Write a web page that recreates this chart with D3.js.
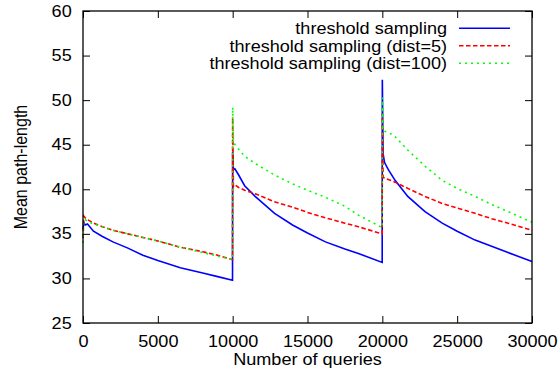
<!DOCTYPE html>
<html>
<head>
<meta charset="utf-8">
<script src="https://cdn.jsdelivr.net/npm/d3@7"></script>
<style>
	body { margin: 0; background: #fff; }
	svg { display: block; font-family: "Liberation Sans", Arial, Helvetica, sans-serif; }
	.vis__axis text { font-size: 16px; fill: #000; }
	.vis__axis line { stroke: #000; stroke-width: 1; }
	.vis__label { font-size: 16px; fill: #000; }
</style>
</head>
<body>
<svg id="chart" width="560" height="381"></svg>
<script>
var width = 560, height = 381;

// data
var queries = [0, 50, 150, 300, 700, 1300, 2000, 3000, 4000, 5000, 6500, 8000, 9000, 9990,
	10000, 10050, 10150, 10400, 10800, 11500, 12800, 14000, 15000, 16200, 17500, 18400, 19990,
	20000, 20050, 20150, 20400, 20850, 21700, 22850, 24000, 25000, 26200, 27300, 28400, 30000];

var plain = [35.5, 36.3, 36.0, 36.1, 35.3, 34.7, 34.1, 33.4, 32.6, 32.0, 31.2, 30.6, 30.2, 29.8,
	44.2, 42.2, 42.3, 41.6, 40.4, 39.2, 37.3, 36.0, 35.1, 34.1, 33.3, 32.8, 31.8,
	52.3, 44.0, 43.0, 42.2, 41.0, 39.2, 37.5, 36.2, 35.3, 34.3, 33.6, 32.9, 31.9];

var dist5 = [34.5, 37.0, 36.8, 36.6, 36.2, 35.8, 35.4, 35.0, 34.6, 34.2, 33.5, 33.0, 32.6, 32.1,
	48.0, 40.3, 40.5, 40.2, 39.9, 39.5, 38.6, 38.0, 37.4, 36.8, 36.2, 35.8, 35.0,
	48.5, 41.4, 41.2, 41.1, 40.8, 40.1, 39.2, 38.4, 37.9, 37.3, 36.7, 36.2, 35.4];

var dist100 = [34.0, 36.5, 36.6, 36.4, 36.1, 35.8, 35.4, 35.0, 34.6, 34.2, 33.5, 32.9, 32.5, 32.1,
	49.2, 45.5, 45.0, 44.5, 43.7, 42.9, 41.6, 40.6, 39.9, 39.1, 38.1, 37.1, 35.7,
	50.3, 46.7, 46.5, 46.4, 45.9, 44.4, 42.6, 41.0, 40.1, 39.2, 38.3, 37.5, 36.3];

var seriesNames = ['threshold sampling', 'threshold sampling (dist=5)', 'threshold sampling (dist=100)'];
var seriesValues = [plain, dist5, dist100];
var seriesColors = ['#0000ff', '#ff0000', '#00ff00'];
var seriesDashes = [null, '4.5,2.5', '2,4'];

var xTicks = [0, 5000, 10000, 15000, 20000, 25000, 30000];
var yTicks = [25, 30, 35, 40, 45, 50, 55, 60];

var svg = d3.select('#chart');
var plot = { left: 83, right: 532, top: 11, bottom: 323 };
var stretch = 'scale(1.13,1)'; // the reference glyphs are a bit wider than tall

var x = d3.scaleLinear().domain([0, 30000]).range([plot.left, plot.right]);
var y = d3.scaleLinear().domain([25, 60]).range([plot.bottom, plot.top]);

// curves
var line = d3.line()
	.x(function(d) { return x(d[0]); })
	.y(function(d) { return y(d[1]); });

seriesValues.forEach(function(vals, i) {
	svg.append('path')
		.datum(queries.map(function(q, j) { return [q, vals[j]]; }))
		.attr('d', line)
		.attr('fill', 'none')
		.attr('stroke', seriesColors[i])
		.attr('stroke-width', 1.6)
		.attr('stroke-dasharray', seriesDashes[i]);
});

// axes, ticks point inward and are mirrored
svg.append('g').classed('vis__axis', true)
	.attr('transform', 'translate(0,' + plot.bottom + ')')
	.call(d3.axisBottom(x).tickValues(xTicks).tickSize(-7).tickSizeOuter(0).tickPadding(13).tickFormat(d3.format('d')))
	.call(function(g) { g.select('.domain').remove(); g.selectAll('text').attr('transform', stretch); });

svg.append('g').classed('vis__axis', true)
	.attr('transform', 'translate(0,' + plot.top + ')')
	.call(d3.axisTop(x).tickValues(xTicks).tickSize(-7).tickSizeOuter(0).tickFormat(''))
	.call(function(g) { g.select('.domain').remove(); });

svg.append('g').classed('vis__axis', true)
	.attr('transform', 'translate(' + plot.left + ',0)')
	.call(d3.axisLeft(y).tickValues(yTicks).tickSize(-7).tickSizeOuter(0).tickPadding(10))
	.call(function(g) { g.select('.domain').remove(); g.selectAll('text').attr('transform', stretch); });

svg.append('g').classed('vis__axis', true)
	.attr('transform', 'translate(' + plot.right + ',0)')
	.call(d3.axisRight(y).tickValues(yTicks).tickSize(-7).tickSizeOuter(0).tickFormat(''))
	.call(function(g) { g.select('.domain').remove(); });

svg.append('rect')
	.attr('x', plot.left)
	.attr('y', plot.top)
	.attr('width', plot.right - plot.left)
	.attr('height', plot.bottom - plot.top)
	.attr('fill', 'none')
	.attr('stroke', '#000')
	.attr('stroke-width', 1.3);

// axis titles
svg.append('text').classed('vis__label', true)
	.attr('text-anchor', 'middle')
	.attr('transform', 'translate(' + ((plot.left + plot.right) / 2) + ',364.5) ' + stretch)
	.text('Number of queries');

svg.append('text').classed('vis__label', true)
	.attr('text-anchor', 'middle')
	.attr('transform', 'translate(26.5,' + (plot.top + plot.bottom) / 2 + ') ' + stretch + ' rotate(-90)')
	.text('Mean path-length');

// key
var legend = svg.append('g').attr('transform', 'translate(447,28.3)');
seriesNames.forEach(function(name, i) {
	var row = legend.append('g').attr('transform', 'translate(0,' + (i * 17.5) + ')');
	row.append('text').classed('vis__label', true)
		.attr('text-anchor', 'end')
		.attr('transform', 'translate(0,5.8) ' + stretch)
		.text(name);
	row.append('line')
		.attr('x1', 12).attr('x2', 63)
		.attr('stroke', seriesColors[i])
		.attr('stroke-width', 1.6)
		.attr('stroke-dasharray', seriesDashes[i]);
});
</script>
</body>
</html>
